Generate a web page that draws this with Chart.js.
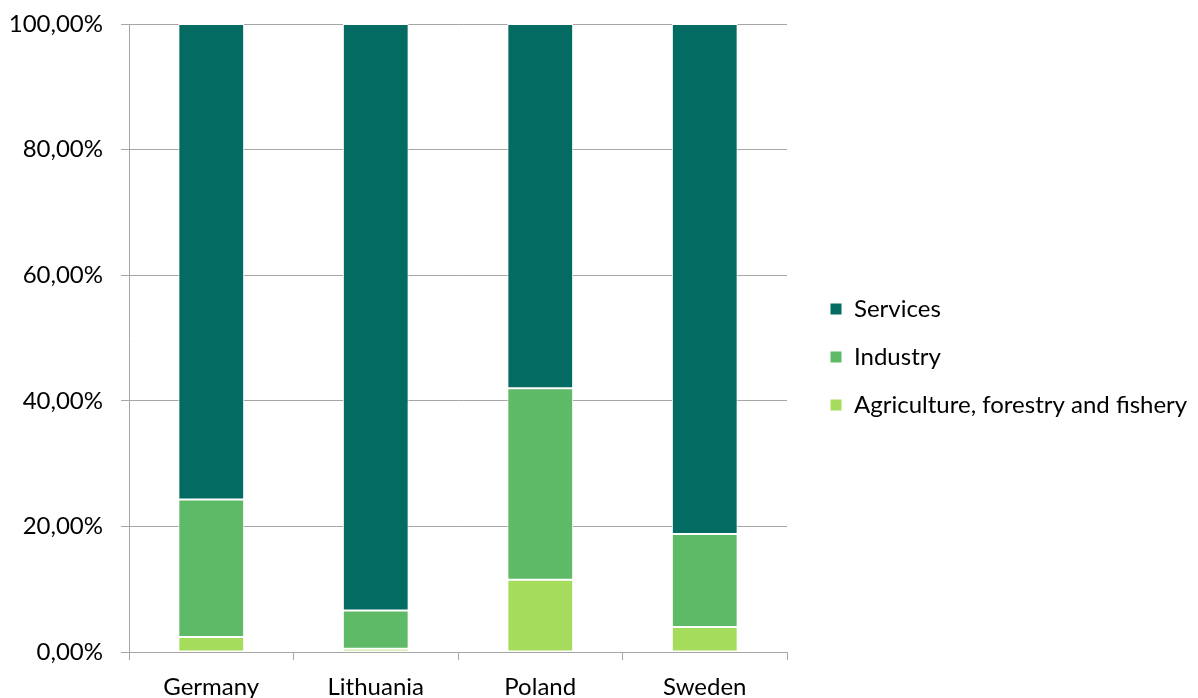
<!DOCTYPE html>
<html lang="en">
<head>
  <meta charset="UTF-8" />
  <title>Employment by sector</title>
  <script src="https://cdn.jsdelivr.net/npm/chart.js"></script>
  <style>
    html, body { margin: 0; padding: 0; background: #fff; }
    #wrap { width: 1198px; height: 698px; }
  </style>
</head>
<body>
  <div id="wrap"><canvas id="sectorChart" width="1198" height="698"></canvas></div>

  <script>
    // shares of employment, in percent
    const countries = ['Germany', 'Lithuania', 'Poland', 'Sweden'];
    const agriculture = [2.4, 0.5, 11.5, 4.0];
    const industry = [21.9, 6.1, 30.5, 14.8];
    const services = [75.7, 93.4, 58.0, 81.2];
    const yTicks = [0, 20, 40, 60, 80, 100];

    const fontFamily = "Lato, 'Open Sans', sans-serif";
    const fontSize = 24;
    const gridColor = '#a6a6a6';

    // fixed legend width, and nudge the legend items right and up a bit
    const legendSpacing = {
      id: 'legendSpacing',
      beforeInit(chart) {
        const fit = chart.legend.fit;
        chart.legend.fit = function () {
          fit.call(this);
          this.width = 411;
        };
      },
      afterLayout(chart) {
        chart.legend.left += 19;
        chart.legend.right += 19;
        chart.legend.top -= 4;
        chart.legend.bottom -= 4;
      }
    };

    const ctx = document.getElementById('sectorChart').getContext('2d');
    new Chart(ctx, {
      type: 'bar',
      data: {
        labels: countries,
        datasets: [
          { label: 'Agriculture, forestry and fishery', data: agriculture, backgroundColor: '#a6dc5c' },
          { label: 'Industry', data: industry, backgroundColor: '#5eba67' },
          { label: 'Services', data: services, backgroundColor: '#036b61' }
        ].map(d => Object.assign(d, {
          borderColor: '#ffffff',
          borderWidth: 1,
          borderSkipped: false,
          barPercentage: 0.4,
          categoryPercentage: 1
        }))
      },
      options: {
        responsive: false,
        animation: false,
        layout: { padding: { top: 24, left: 8, right: 0, bottom: 0 } },
        plugins: {
          tooltip: { enabled: false },
          legend: {
            position: 'right',
            reverse: true,
            labels: {
              boxWidth: 12,
              boxHeight: 12,
              padding: 24,
              color: '#000',
              font: { family: fontFamily, size: fontSize }
            }
          }
        },
        scales: {
          x: {
            stacked: true,
            offset: true,
            afterFit: s => { s.height = 46; s.paddingLeft = 0; s.paddingRight = 0; },
            grid: {
              offset: true,
              drawOnChartArea: false,
              drawTicks: true,
              tickLength: 8,
              color: gridColor
            },
            border: { color: gridColor },
            ticks: { color: '#000', padding: 13, font: { family: fontFamily, size: fontSize } }
          },
          y: {
            stacked: true,
            min: 0,
            max: 100,
            afterFit: s => { s.width = 121; s.paddingTop = 0; s.paddingBottom = 0; },
            afterBuildTicks: axis => { axis.ticks = yTicks.map(v => ({ value: v })); },
            grid: { color: gridColor, tickLength: 8 },
            border: { color: gridColor },
            ticks: {
              color: '#000',
              padding: 18,
              font: { family: fontFamily, size: fontSize },
              callback: v => v.toFixed(2).replace('.', ',') + '%'
            }
          }
        }
      },
      plugins: [legendSpacing]
    });
  </script>
</body>
</html>
